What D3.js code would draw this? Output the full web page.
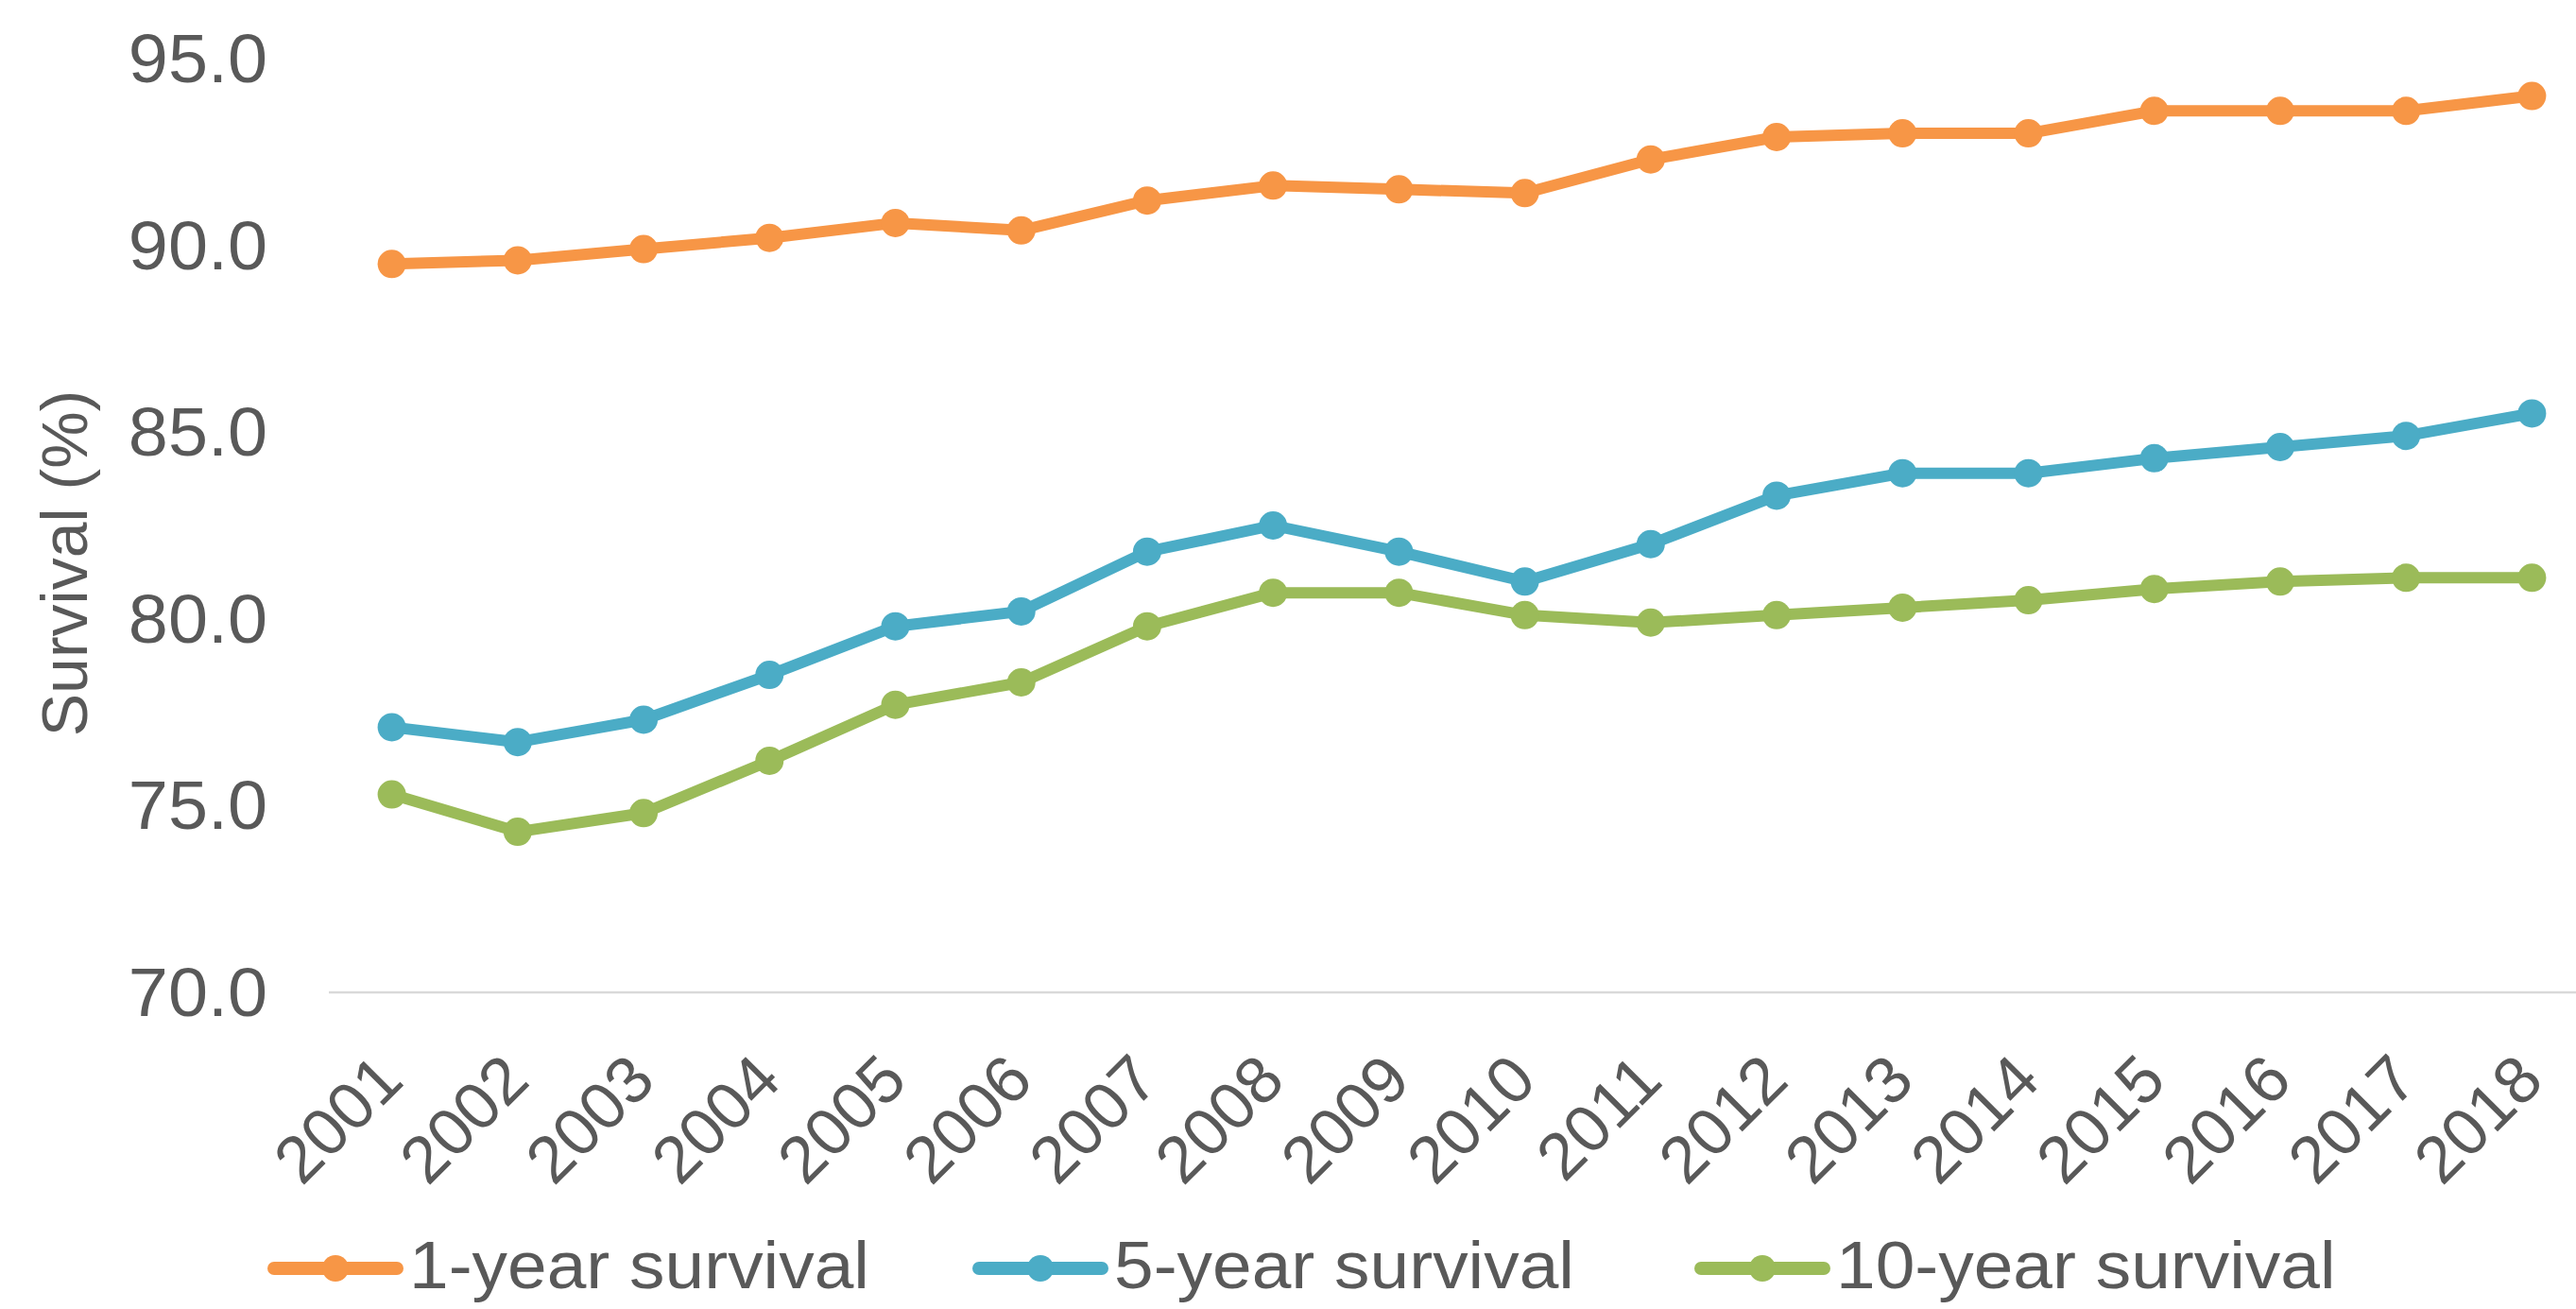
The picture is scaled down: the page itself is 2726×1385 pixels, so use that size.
<!DOCTYPE html>
<html>
<head>
<meta charset="utf-8">
<script src="https://cdn.jsdelivr.net/npm/d3@7"></script>
<style>
  html, body { margin: 0; padding: 0; background: #ffffff; overflow: hidden; }
  svg { display: block; font-family: "Liberation Sans", Arial, sans-serif; }
</style>
</head>
<body>
<svg id="chart" width="2726" height="1385"></svg>
<script>
// Survival by year of diagnosis
const years = ["2001","2002","2003","2004","2005","2006","2007","2008","2009",
               "2010","2011","2012","2013","2014","2015","2016","2017","2018"];
const oneYear  = [89.5, 89.6, 89.9, 90.2, 90.6, 90.4, 91.2, 91.6, 91.5, 91.4, 92.3, 92.9, 93.0, 93.0, 93.6, 93.6, 93.6, 94.0];
const fiveYear = [77.1, 76.7, 77.3, 78.5, 79.8, 80.2, 81.8, 82.5, 81.8, 81.0, 82.0, 83.3, 83.9, 83.9, 84.3, 84.6, 84.9, 85.5];
const tenYear  = [75.3, 74.3, 74.8, 76.2, 77.7, 78.3, 79.8, 80.7, 80.7, 80.1, 79.9, 80.1, 80.3, 80.5, 80.8, 81.0, 81.1, 81.1];
const seriesNames = ["1-year survival", "5-year survival", "10-year survival"];
const seriesColors = ["#F79646", "#4BACC6", "#9BBB59"];
const yTicks = [70, 75, 80, 85, 90, 95];
const yTitle = "Survival (%)";

const series = [oneYear, fiveYear, tenYear].map((vals, i) => ({
  name: seriesNames[i], color: seriesColors[i],
  points: vals.map((v, j) => ({ year: years[j], value: v }))
}));

const svg = d3.select("#chart");
const textColor = "#595959";

// Layout
const plotLeft = 348, plotRight = 2746, plotTop = 62, plotBottom = 1050;

const x = d3.scaleBand().domain(years).range([plotLeft, plotRight]).paddingInner(0).paddingOuter(0);
const y = d3.scaleLinear().domain([70, 95]).range([plotBottom, plotTop]);
const cx = d => x(d) + x.bandwidth() / 2;

// Baseline gridline at the axis minimum
svg.append("line")
  .attr("x1", plotLeft).attr("x2", plotRight)
  .attr("y1", y(70)).attr("y2", y(70))
  .attr("stroke", "#d9d9d9").attr("stroke-width", 2.5);

// Y tick labels (slightly wide face)
svg.append("g").selectAll("text").data(yTicks).join("text")
  .attr("transform", d => `translate(283, ${y(d) + 25}) scale(1.05, 1)`)
  .attr("text-anchor", "end")
  .attr("fill", textColor)
  .attr("font-size", 72)
  .text(d => d.toFixed(1));

// Y axis title
svg.append("text")
  .attr("transform", `translate(92, ${(y(70) + y(95)) / 2 + 40}) rotate(-90)`)
  .attr("text-anchor", "middle")
  .attr("fill", textColor)
  .attr("font-size", 68)
  .text(yTitle);

// X tick labels, rotated
svg.append("g").selectAll("text").data(years).join("text")
  .attr("transform", d => `translate(${cx(d) + 15}, ${plotBottom + 96}) rotate(-45)`)
  .attr("text-anchor", "end")
  .attr("fill", textColor)
  .attr("font-size", 70)
  .text(d => d);

// Lines and markers
const line = d3.line().x(d => cx(d.year)).y(d => y(d.value));
const g = svg.append("g");
series.forEach(s => {
  g.append("path")
    .datum(s.points)
    .attr("d", line)
    .attr("fill", "none")
    .attr("stroke", s.color)
    .attr("stroke-width", 12)
    .attr("stroke-linejoin", "round");
  g.append("g").selectAll("circle").data(s.points).join("circle")
    .attr("cx", d => cx(d.year))
    .attr("cy", d => y(d.value))
    .attr("r", 15)
    .attr("fill", s.color);
});

// Legend
const legendX = [290, 1036, 1800];
const legendY = 1342;
const legend = svg.append("g").selectAll("g").data(series).join("g")
  .attr("transform", (d, i) => `translate(${legendX[i]}, ${legendY})`);
legend.append("line")
  .attr("x1", 0).attr("x2", 130).attr("y1", 0).attr("y2", 0)
  .attr("stroke", d => d.color).attr("stroke-width", 14).attr("stroke-linecap", "round");
legend.append("circle")
  .attr("cx", 65).attr("cy", 0).attr("r", 14)
  .attr("fill", d => d.color);
legend.append("text")
  .attr("transform", "translate(143, 21) scale(1.07, 1)")
  .attr("fill", textColor)
  .attr("font-size", 70)
  .text(d => d.name);
</script>
</body>
</html>
